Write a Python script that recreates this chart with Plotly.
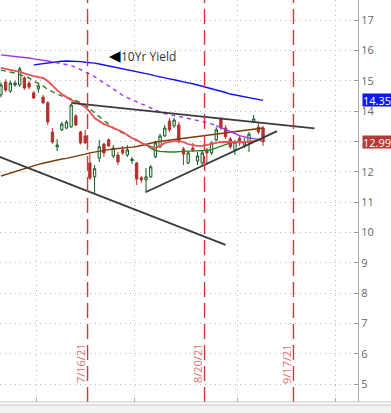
import plotly.graph_objects as go

# ---------------- data ----------------
dates = ["2021-06-21","2021-06-22","2021-06-23","2021-06-24","2021-06-25","2021-06-28","2021-06-29","2021-06-30",
         "2021-07-01","2021-07-02","2021-07-06","2021-07-07","2021-07-08","2021-07-09","2021-07-12","2021-07-13",
         "2021-07-14","2021-07-15","2021-07-16","2021-07-19","2021-07-20","2021-07-21","2021-07-22","2021-07-23",
         "2021-07-26","2021-07-27","2021-07-28","2021-07-29","2021-07-30","2021-08-02","2021-08-03","2021-08-04",
         "2021-08-05","2021-08-06","2021-08-09","2021-08-10","2021-08-11","2021-08-12","2021-08-13","2021-08-16",
         "2021-08-17","2021-08-18","2021-08-19","2021-08-20","2021-08-23","2021-08-24","2021-08-25","2021-08-26",
         "2021-08-27","2021-08-30","2021-08-31","2021-09-01","2021-09-02","2021-09-03","2021-09-07","2021-09-08",
         "2021-09-09"]

opens = [14.53,14.96,14.66,14.86,14.86,15.09,14.92,14.60,14.73,14.46,14.27,13.31,12.82,13.38,13.44,13.48,
         13.84,13.31,13.18,12.29,11.83,12.45,12.91,13.05,12.52,12.55,12.72,12.55,12.37,12.29,11.80,11.73,
         11.83,12.49,12.82,13.18,13.67,13.51,13.54,12.75,12.29,12.78,12.35,12.29,12.72,12.62,13.05,13.74,
         13.44,13.08,12.72,13.11,12.88,12.95,13.64,13.47,13.44]
highs = [14.95,15.05,15.00,15.00,15.46,15.15,15.00,14.66,14.90,14.53,14.33,13.44,13.08,13.64,13.70,14.23,
         13.90,13.35,13.38,12.60,12.22,13.05,12.95,13.10,12.88,12.65,12.85,12.88,12.49,12.32,11.86,12.12,
         12.22,13.02,13.25,13.54,13.77,13.77,13.64,12.82,12.68,12.95,12.65,12.70,12.78,13.00,13.47,13.80,
         13.54,13.15,13.05,13.20,13.11,13.31,13.87,13.60,13.51]
lows = [14.45,14.63,14.60,14.80,14.80,14.70,14.72,14.40,14.60,14.23,13.54,12.92,12.68,13.34,13.40,13.45,
        13.50,12.90,12.92,11.73,11.30,12.32,12.49,12.82,12.45,12.22,12.55,12.49,12.26,11.56,11.63,11.30,
        11.80,12.45,12.78,13.15,13.31,13.45,12.95,12.22,12.25,12.65,12.22,12.20,12.22,12.55,13.00,13.38,
        13.08,12.75,12.55,12.85,12.78,12.65,13.60,13.24,12.85]
closes = [14.86,14.69,14.92,14.92,15.39,14.76,14.79,14.43,14.83,14.27,13.64,12.98,12.88,13.57,13.64,14.20,
          13.54,12.95,12.95,11.79,12.10,12.82,12.62,12.85,12.78,12.32,12.62,12.72,12.41,11.76,11.73,11.83,
          12.16,12.95,13.18,13.44,13.38,13.70,12.98,12.58,12.62,12.72,12.52,12.62,12.62,12.95,13.38,13.44,
          13.15,12.82,12.98,12.95,12.98,13.24,13.74,13.31,12.99]

ma_blue = [None,None,None,None,None,None,None,15.52,15.54,15.56,15.60,15.61,15.63,15.64,15.65,15.65,
           15.64,15.63,15.61,15.60,15.58,15.55,15.52,15.49,15.46,15.43,15.40,15.37,15.32,15.29,15.26,15.23,
           15.20,15.16,15.12,15.09,15.06,15.03,14.99,14.96,14.93,14.90,14.86,14.82,14.79,14.74,14.70,14.66,
           14.61,14.56,14.53,14.50,14.47,14.43,14.41,14.39,14.35]
ma_purple = [15.85,15.84,15.82,15.80,15.78,15.77,15.75,15.72,15.70,15.67,15.65,15.62,15.60,15.57,15.55,15.50,
             15.44,15.37,15.30,15.22,15.13,15.04,14.93,14.83,14.72,14.62,14.52,14.44,14.37,14.30,14.24,14.17,
             14.10,14.04,13.97,13.92,13.88,13.85,13.82,13.79,13.76,13.73,13.70,13.66,13.62,13.57,13.52,13.46,
             13.39,13.33,13.26,13.19,13.14,13.11,13.09,13.07,13.05]
ma_red = [15.42,15.39,15.35,15.32,15.29,15.24,15.19,15.15,15.12,15.09,14.99,14.83,14.69,14.56,14.46,14.36,
          14.30,14.23,14.13,13.97,13.77,13.67,13.57,13.51,13.44,13.38,13.31,13.21,13.11,13.05,12.95,12.88,
          12.82,12.78,12.85,12.95,12.98,13.01,13.01,12.98,12.91,12.88,12.85,12.85,12.88,12.91,12.95,12.98,
          12.98,12.98,12.98,12.98,12.98,12.98,13.01,13.05,13.05]
ma_green = [15.35,15.32,15.29,15.25,15.20,15.15,15.09,14.99,14.91,14.83,14.71,14.63,14.56,14.50,14.46,14.40,
            14.35,14.28,14.20,14.07,13.94,13.80,13.67,13.54,13.44,13.36,13.28,13.21,13.11,13.05,12.95,12.88,
            12.78,12.70,12.67,12.65,12.65,12.65,12.65,12.67,12.68,12.68,12.68,12.68,12.70,12.73,12.78,12.85,
            12.90,12.95,12.96,12.98,12.98,13.00,13.01,13.03,13.05]
ma_brown = [11.86,11.91,11.96,12.01,12.06,12.10,12.15,12.19,12.24,12.28,12.32,12.35,12.39,12.42,12.44,12.47,
            12.51,12.54,12.58,12.62,12.65,12.69,12.72,12.73,12.75,12.76,12.77,12.79,12.81,12.83,12.86,12.90,
            12.94,12.98,13.00,13.03,13.05,13.07,13.10,13.12,13.14,13.16,13.17,13.19,13.21,13.23,13.25,13.27,
            13.29,13.31,13.33,13.34,13.36,13.38,13.40,13.42,13.44]

# trend lines drawn on the chart (date, value pairs)
trend_upper_x = ["2021-07-13", "2021-09-24"]
trend_upper_y = [14.27, 13.43]
trend_lower_x = ["2021-06-18", "2021-08-27"]
trend_lower_y = [12.53, 9.59]
trend_support_x = ["2021-08-04", "2021-09-14"]
trend_support_y = [11.33, 13.34]

event_dates = ["2021-07-16", "2021-08-20", "2021-09-17"]
event_labels = ["7/16/21", "8/20/21", "9/17/21"]
month_ends = ["2021-06-30", "2021-07-30", "2021-08-31", "2021-09-30"]
holidays = ["2021-07-05", "2021-09-06"]
y_ticks = list(range(5, 18))
study_label = "10Yr Yield"

# ---------------- style ----------------
GREEN = "#0d5a1c"
RED = "#b3302d"
W, H = 391, 413
ML, MR, MT, MB = 0, 33, 0, 11
PW, PH = W - ML - MR, H - MT - MB

fig = go.Figure()


def add_segments(y, color, width, pieces):
    # pieces: list of (start_idx, end_idx, dash)
    for a, b, dash in pieces:
        fig.add_trace(go.Scatter(x=dates[a:b + 1], y=y[a:b + 1], mode="lines",
                                 line=dict(color=color, width=width, dash=dash),
                                 hoverinfo="skip", connectgaps=False))


add_segments(ma_brown, "#7b3a06", 1.4, [(0, len(dates) - 1, "solid")])
add_segments(ma_blue, "#1010ee", 1.4, [(0, len(dates) - 1, "solid")])
add_segments(ma_purple, "#a035f0", 1.4, [(0, 10, "solid"), (10, 46, "4px,4px"), (46, len(dates) - 1, "solid")])
add_segments(ma_green, "#1b8a17", 1.4, [(0, 30, "5px,4px"), (30, len(dates) - 1, "solid")])
add_segments(ma_red, "#e8505a", 1.8, [(0, len(dates) - 1, "solid")])

fig.add_trace(go.Candlestick(
    x=dates, open=opens, high=highs, low=lows, close=closes,
    increasing=dict(line=dict(color=GREEN, width=1), fillcolor="white"),
    decreasing=dict(line=dict(color=RED, width=1), fillcolor=RED),
    whiskerwidth=0, hoverinfo="skip"))

for tx, ty in [(trend_upper_x, trend_upper_y), (trend_lower_x, trend_lower_y),
               (trend_support_x, trend_support_y)]:
    fig.add_trace(go.Scatter(x=tx, y=ty, mode="lines",
                             line=dict(color="#3a3a3a", width=1.8), hoverinfo="skip"))

shapes = []
annotations = []
for d, lab in zip(event_dates, event_labels):
    xd = d + " 12:00"
    shapes.append(dict(type="line", xref="x", yref="paper", x0=xd, x1=xd, y0=0, y1=1,
                       line=dict(color="#cc3a3a", width=1.4, dash="15px,6px"), layer="above"))
    annotations.append(dict(x=xd, xref="x", y=(PH - 363.5) / PH, yref="paper", text=lab,
                            textangle=-90, showarrow=False, xshift=-7,
                            xanchor="center", yanchor="middle",
                            font=dict(family="Open Sans", size=11, color="#e07070")))

# bottom frame band
xr = W / PW
shapes += [
    dict(type="rect", xref="paper", yref="paper", x0=0, x1=xr, y0=-3 / PH, y1=-11 / PH,
         fillcolor="#f3f3f3", line=dict(width=0), layer="below"),
    dict(type="line", xref="paper", yref="paper", x0=0, x1=xr, y0=0, y1=0,
         line=dict(color="#c4c4c4", width=1)),
    dict(type="line", xref="paper", yref="paper", x0=0, x1=xr, y0=-3 / PH, y1=-3 / PH,
         line=dict(color="#c4c4c4", width=1)),
]

# study label
annotations.append(dict(x=107 / PW, xref="paper", y=(PH - 55) / PH, yref="paper",
                        text="<span style='font-size:15px;color:#000'>◀</span>" + study_label,
                        showarrow=False, xanchor="left", yanchor="middle",
                        font=dict(family="Open Sans", size=12, color="#333333")))

# last value labels
for val, bg in [(ma_blue[-1], "#0b16f0"), (closes[-1], "#b33a36")]:
    annotations.append(dict(x=362 / PW, xref="paper", y=val, yref="y", text=f"{val:.2f}",
                            showarrow=False, xanchor="left", yanchor="middle", bgcolor=bg,
                            height=12, width=28, borderpad=0, align="left", valign="middle",
                            font=dict(family="Open Sans", size=11, color="white")))

grid_vals = [m + " 12:00" for m in month_ends]

fig.update_layout(
    width=W, height=H, margin=dict(l=ML, r=MR, t=MT, b=MB),
    paper_bgcolor="white", plot_bgcolor="white", showlegend=False,
    shapes=shapes, annotations=annotations,
    xaxis=dict(type="date", range=["2021-06-18 19:00", "2021-10-07 07:00"],
               rangebreaks=[dict(bounds=["sat", "mon"]), dict(values=holidays)],
               rangeslider=dict(visible=False), tickvals=grid_vals, showticklabels=False,
               showgrid=True, gridcolor="#b8b8b8", griddash="1px,4px", gridwidth=1,
               ticks="inside", ticklen=4, tickcolor="#aaaaaa", showline=False, zeroline=False,
               fixedrange=True),
    yaxis=dict(side="right", range=[4.41, 17.66], tickvals=y_ticks, ticks="inside", ticklen=4,
               tickcolor="#999999", showline=True, linecolor="#b0b0b0", linewidth=1,
               showgrid=True, gridcolor="#b8b8b8", griddash="1px,4px", gridwidth=1,
               zeroline=False, tickfont=dict(family="Open Sans", size=11, color="#666666"),
               fixedrange=True),
)

fig.write_html("out.html", config={"displayModeBar": False},
               post_script="document.body.style.margin='0px';")
